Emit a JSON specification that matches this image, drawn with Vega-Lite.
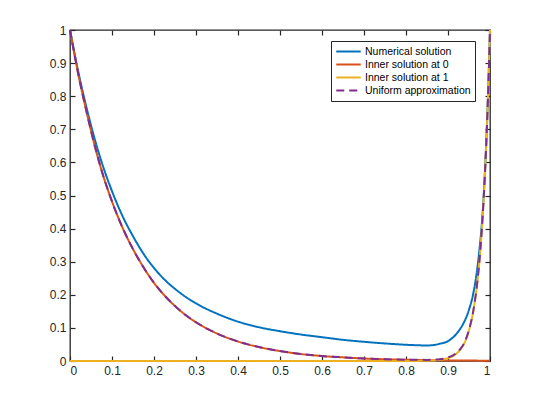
{
  "$schema": "https://vega.github.io/schema/vega-lite/v6.json",
  "width": 420,
  "height": 331,
  "autosize": "none",
  "padding": {"left": 70, "top": 30, "right": 50, "bottom": 44},
  "background": "white",
  "config": {
    "view": {"stroke": "#262626", "strokeWidth": 1.3},
    "axis": {
      "labelFont": "Liberation Sans",
      "labelFontSize": 12,
      "labelColor": "#262626",
      "tickColor": "#262626",
      "tickSize": -5,
      "tickWidth": 1.2,
      "labelPadding": 9,
      "grid": false,
      "domain": false,
      "title": null
    },
    "legend": {
      "title": null,
      "orient": "none",
      "legendX": 261,
      "legendY": 11,
      "fillColor": "white",
      "strokeColor": "#262626",
      "padding": 4,
      "symbolType": "stroke",
      "symbolSize": 600,
      "symbolStrokeWidth": 2,
      "labelFont": "Liberation Sans",
      "labelFontSize": 10.5,
      "labelColor": "black",
      "labelOffset": 3,
      "clipHeight": 13,
      "rowPadding": 0
    }
  },
  "data": {
    "values": [
      {"series": "Numerical solution", "x": 0, "y": 1},
      {"series": "Numerical solution", "x": 0.02, "y": 0.872},
      {"series": "Numerical solution", "x": 0.04, "y": 0.762},
      {"series": "Numerical solution", "x": 0.06, "y": 0.665},
      {"series": "Numerical solution", "x": 0.08, "y": 0.583},
      {"series": "Numerical solution", "x": 0.1, "y": 0.513},
      {"series": "Numerical solution", "x": 0.125, "y": 0.438},
      {"series": "Numerical solution", "x": 0.15, "y": 0.377},
      {"series": "Numerical solution", "x": 0.175, "y": 0.324},
      {"series": "Numerical solution", "x": 0.2, "y": 0.281},
      {"series": "Numerical solution", "x": 0.225, "y": 0.246},
      {"series": "Numerical solution", "x": 0.25, "y": 0.218},
      {"series": "Numerical solution", "x": 0.275, "y": 0.194},
      {"series": "Numerical solution", "x": 0.3, "y": 0.174},
      {"series": "Numerical solution", "x": 0.35, "y": 0.143},
      {"series": "Numerical solution", "x": 0.4, "y": 0.119},
      {"series": "Numerical solution", "x": 0.45, "y": 0.102},
      {"series": "Numerical solution", "x": 0.5, "y": 0.09},
      {"series": "Numerical solution", "x": 0.55, "y": 0.08},
      {"series": "Numerical solution", "x": 0.6, "y": 0.072},
      {"series": "Numerical solution", "x": 0.65, "y": 0.064},
      {"series": "Numerical solution", "x": 0.7, "y": 0.058},
      {"series": "Numerical solution", "x": 0.75, "y": 0.053},
      {"series": "Numerical solution", "x": 0.8, "y": 0.049},
      {"series": "Numerical solution", "x": 0.85, "y": 0.047},
      {"series": "Numerical solution", "x": 0.87, "y": 0.049},
      {"series": "Numerical solution", "x": 0.88, "y": 0.052},
      {"series": "Numerical solution", "x": 0.9, "y": 0.06},
      {"series": "Numerical solution", "x": 0.92, "y": 0.082},
      {"series": "Numerical solution", "x": 0.93, "y": 0.099},
      {"series": "Numerical solution", "x": 0.94, "y": 0.122},
      {"series": "Numerical solution", "x": 0.95, "y": 0.155},
      {"series": "Numerical solution", "x": 0.96, "y": 0.203},
      {"series": "Numerical solution", "x": 0.97, "y": 0.282},
      {"series": "Numerical solution", "x": 0.975, "y": 0.338},
      {"series": "Numerical solution", "x": 0.98, "y": 0.405},
      {"series": "Numerical solution", "x": 0.985, "y": 0.5},
      {"series": "Numerical solution", "x": 0.99, "y": 0.63},
      {"series": "Numerical solution", "x": 0.995, "y": 0.79},
      {"series": "Numerical solution", "x": 1, "y": 1},

      {"series": "Inner solution at 0", "x": 0, "y": 1},
      {"series": "Inner solution at 0", "x": 0.02, "y": 0.865},
      {"series": "Inner solution at 0", "x": 0.04, "y": 0.75},
      {"series": "Inner solution at 0", "x": 0.06, "y": 0.645},
      {"series": "Inner solution at 0", "x": 0.08, "y": 0.556},
      {"series": "Inner solution at 0", "x": 0.1, "y": 0.482},
      {"series": "Inner solution at 0", "x": 0.125, "y": 0.403},
      {"series": "Inner solution at 0", "x": 0.15, "y": 0.338},
      {"series": "Inner solution at 0", "x": 0.175, "y": 0.283},
      {"series": "Inner solution at 0", "x": 0.2, "y": 0.236},
      {"series": "Inner solution at 0", "x": 0.225, "y": 0.198},
      {"series": "Inner solution at 0", "x": 0.25, "y": 0.166},
      {"series": "Inner solution at 0", "x": 0.275, "y": 0.139},
      {"series": "Inner solution at 0", "x": 0.3, "y": 0.117},
      {"series": "Inner solution at 0", "x": 0.35, "y": 0.083},
      {"series": "Inner solution at 0", "x": 0.4, "y": 0.059},
      {"series": "Inner solution at 0", "x": 0.45, "y": 0.042},
      {"series": "Inner solution at 0", "x": 0.5, "y": 0.03},
      {"series": "Inner solution at 0", "x": 0.55, "y": 0.021},
      {"series": "Inner solution at 0", "x": 0.6, "y": 0.015},
      {"series": "Inner solution at 0", "x": 0.65, "y": 0.011},
      {"series": "Inner solution at 0", "x": 0.7, "y": 0.0075},
      {"series": "Inner solution at 0", "x": 0.75, "y": 0.0053},
      {"series": "Inner solution at 0", "x": 0.8, "y": 0.0037},
      {"series": "Inner solution at 0", "x": 0.85, "y": 0.0026},
      {"series": "Inner solution at 0", "x": 0.9, "y": 0.0018},
      {"series": "Inner solution at 0", "x": 0.95, "y": 0.0013},
      {"series": "Inner solution at 0", "x": 1, "y": 0.0009},

      {"series": "Inner solution at 1", "x": 0, "y": 0},
      {"series": "Inner solution at 1", "x": 0.4, "y": 0},
      {"series": "Inner solution at 1", "x": 0.8, "y": 0.0001},
      {"series": "Inner solution at 1", "x": 0.85, "y": 0.0008},
      {"series": "Inner solution at 1", "x": 0.88, "y": 0.0033},
      {"series": "Inner solution at 1", "x": 0.9, "y": 0.0086},
      {"series": "Inner solution at 1", "x": 0.92, "y": 0.022},
      {"series": "Inner solution at 1", "x": 0.93, "y": 0.036},
      {"series": "Inner solution at 1", "x": 0.94, "y": 0.057},
      {"series": "Inner solution at 1", "x": 0.95, "y": 0.093},
      {"series": "Inner solution at 1", "x": 0.96, "y": 0.149},
      {"series": "Inner solution at 1", "x": 0.97, "y": 0.24},
      {"series": "Inner solution at 1", "x": 0.975, "y": 0.304},
      {"series": "Inner solution at 1", "x": 0.98, "y": 0.386},
      {"series": "Inner solution at 1", "x": 0.985, "y": 0.49},
      {"series": "Inner solution at 1", "x": 0.99, "y": 0.621},
      {"series": "Inner solution at 1", "x": 0.995, "y": 0.788},
      {"series": "Inner solution at 1", "x": 1, "y": 1},

      {"series": "Uniform approximation", "x": 0, "y": 1},
      {"series": "Uniform approximation", "x": 0.02, "y": 0.865},
      {"series": "Uniform approximation", "x": 0.04, "y": 0.75},
      {"series": "Uniform approximation", "x": 0.06, "y": 0.645},
      {"series": "Uniform approximation", "x": 0.08, "y": 0.556},
      {"series": "Uniform approximation", "x": 0.1, "y": 0.482},
      {"series": "Uniform approximation", "x": 0.125, "y": 0.403},
      {"series": "Uniform approximation", "x": 0.15, "y": 0.338},
      {"series": "Uniform approximation", "x": 0.175, "y": 0.283},
      {"series": "Uniform approximation", "x": 0.2, "y": 0.236},
      {"series": "Uniform approximation", "x": 0.225, "y": 0.198},
      {"series": "Uniform approximation", "x": 0.25, "y": 0.166},
      {"series": "Uniform approximation", "x": 0.275, "y": 0.139},
      {"series": "Uniform approximation", "x": 0.3, "y": 0.117},
      {"series": "Uniform approximation", "x": 0.35, "y": 0.083},
      {"series": "Uniform approximation", "x": 0.4, "y": 0.059},
      {"series": "Uniform approximation", "x": 0.45, "y": 0.042},
      {"series": "Uniform approximation", "x": 0.5, "y": 0.03},
      {"series": "Uniform approximation", "x": 0.55, "y": 0.021},
      {"series": "Uniform approximation", "x": 0.6, "y": 0.015},
      {"series": "Uniform approximation", "x": 0.65, "y": 0.011},
      {"series": "Uniform approximation", "x": 0.7, "y": 0.0075},
      {"series": "Uniform approximation", "x": 0.75, "y": 0.0053},
      {"series": "Uniform approximation", "x": 0.8, "y": 0.0038},
      {"series": "Uniform approximation", "x": 0.85, "y": 0.0034},
      {"series": "Uniform approximation", "x": 0.88, "y": 0.0054},
      {"series": "Uniform approximation", "x": 0.9, "y": 0.0104},
      {"series": "Uniform approximation", "x": 0.92, "y": 0.024},
      {"series": "Uniform approximation", "x": 0.93, "y": 0.0375},
      {"series": "Uniform approximation", "x": 0.94, "y": 0.058},
      {"series": "Uniform approximation", "x": 0.95, "y": 0.094},
      {"series": "Uniform approximation", "x": 0.96, "y": 0.15},
      {"series": "Uniform approximation", "x": 0.97, "y": 0.241},
      {"series": "Uniform approximation", "x": 0.975, "y": 0.305},
      {"series": "Uniform approximation", "x": 0.98, "y": 0.387},
      {"series": "Uniform approximation", "x": 0.985, "y": 0.491},
      {"series": "Uniform approximation", "x": 0.99, "y": 0.622},
      {"series": "Uniform approximation", "x": 0.995, "y": 0.789},
      {"series": "Uniform approximation", "x": 1, "y": 1}
    ]
  },
  "encoding": {
    "x": {
      "field": "x",
      "type": "quantitative",
      "scale": {"domain": [0, 1], "nice": false, "zero": false}
    },
    "y": {
      "field": "y",
      "type": "quantitative",
      "scale": {"domain": [0, 1], "nice": false, "zero": false}
    }
  },
  "layer": [
    {
      "mark": {"type": "line", "strokeWidth": 2, "interpolate": "monotone"},
      "encoding": {
        "x": {
          "field": "x",
          "type": "quantitative",
          "axis": {"orient": "bottom", "values": [0, 0.1, 0.2, 0.3, 0.4, 0.5, 0.6, 0.7, 0.8, 0.9, 1], "format": "~g"}
        },
        "y": {
          "field": "y",
          "type": "quantitative",
          "axis": {"orient": "left", "values": [0, 0.1, 0.2, 0.3, 0.4, 0.5, 0.6, 0.7, 0.8, 0.9, 1], "format": "~g"}
        },
        "color": {
          "field": "series",
          "type": "nominal",
          "scale": {
            "domain": ["Numerical solution", "Inner solution at 0", "Inner solution at 1", "Uniform approximation"],
            "range": ["#0072BD", "#D95319", "#EDB120", "#7E2F8E"]
          },
          "legend": {"title": null}
        },
        "strokeDash": {
          "field": "series",
          "type": "nominal",
          "scale": {
            "domain": ["Numerical solution", "Inner solution at 0", "Inner solution at 1", "Uniform approximation"],
            "range": [[1, 0], [1, 0], [1, 0], [8, 5]]
          },
          "legend": {"title": null}
        }
      }
    },
    {
      "mark": {"type": "point", "opacity": 0},
      "encoding": {
        "x": {
          "field": "x",
          "type": "quantitative",
          "axis": {"orient": "top", "values": [0, 0.1, 0.2, 0.3, 0.4, 0.5, 0.6, 0.7, 0.8, 0.9, 1], "labels": false}
        },
        "y": {
          "field": "y",
          "type": "quantitative",
          "axis": {"orient": "right", "values": [0, 0.1, 0.2, 0.3, 0.4, 0.5, 0.6, 0.7, 0.8, 0.9, 1], "labels": false}
        }
      }
    }
  ]
}
